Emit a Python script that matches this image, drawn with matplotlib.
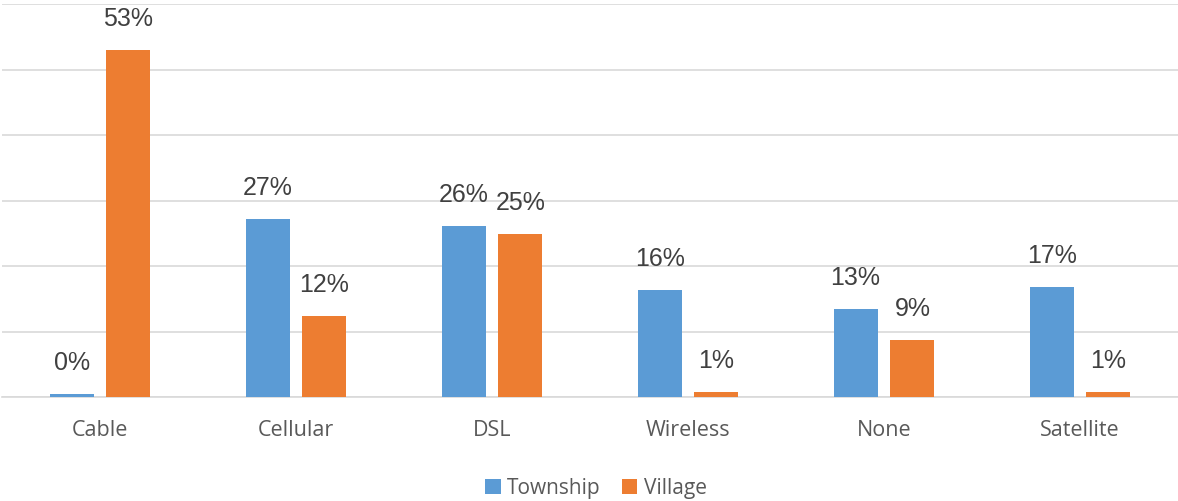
import matplotlib
matplotlib.use('Agg')
import matplotlib.pyplot as plt
import numpy as np

# ===== 数据 =====
categories = ['Cable', 'Cellular', 'DSL', 'Wireless', 'None', 'Satellite']
township = [0.4, 27.2, 26.1, 16.4, 13.4, 16.8]
village = [53.0, 12.4, 24.9, 0.8, 8.7, 0.8]

c_town = '#5B9BD5'
c_vill = '#ED7D31'

fig = plt.figure(figsize=(11.78, 5.02), dpi=100)
ax = fig.add_axes([2 / 1178, 104 / 502, 1176 / 1178, 393 / 502])

x = np.arange(len(categories))
w = 0.224
off = 0.145
b1 = ax.bar(x - off, township, w, color=c_town, label='Township', zorder=3)
b2 = ax.bar(x + off, village, w, color=c_vill, label='Village', zorder=3)

for bars, vals in [(b1, township), (b2, village)]:
    for rect, v in zip(bars, vals):
        ax.annotate(f'{v:.0f}%', (rect.get_x() + rect.get_width() / 2, v),
                    xytext=(0, 23), textcoords='offset points',
                    ha='center', va='center', fontsize=18,
                    color='#404040', family='Liberation Sans')

ax.set_xlim(-0.5, len(categories) - 0.5)
ax.set_ylim(0, 60)
ax.set_yticks(np.arange(0, 61, 10))
ax.yaxis.grid(True, color='#D9D9D9', linewidth=1.2, zorder=0)
ax.tick_params(axis='y', left=False, labelleft=False)
ax.tick_params(axis='x', length=0, pad=16)
ax.set_xticks(x)
ax.set_xticklabels(categories, fontsize=15.5, color='#595959', family='Open Sans')
for s in ['top', 'right', 'left']:
    ax.spines[s].set_visible(False)
ax.spines['bottom'].set_color('#D9D9D9')
ax.spines['bottom'].set_linewidth(1.2)

fig.legend(handles=[b1, b2], loc='center', bbox_to_anchor=(596 / 1178, 1 - 489 / 502),
           ncol=2, frameon=False, handlelength=0.75, handleheight=0.75,
           handletextpad=0.3, columnspacing=1.0,
           prop={'family': 'Open Sans', 'size': 15}, labelcolor='#595959')

plt.savefig('out.png', dpi=100)
plt.close()
